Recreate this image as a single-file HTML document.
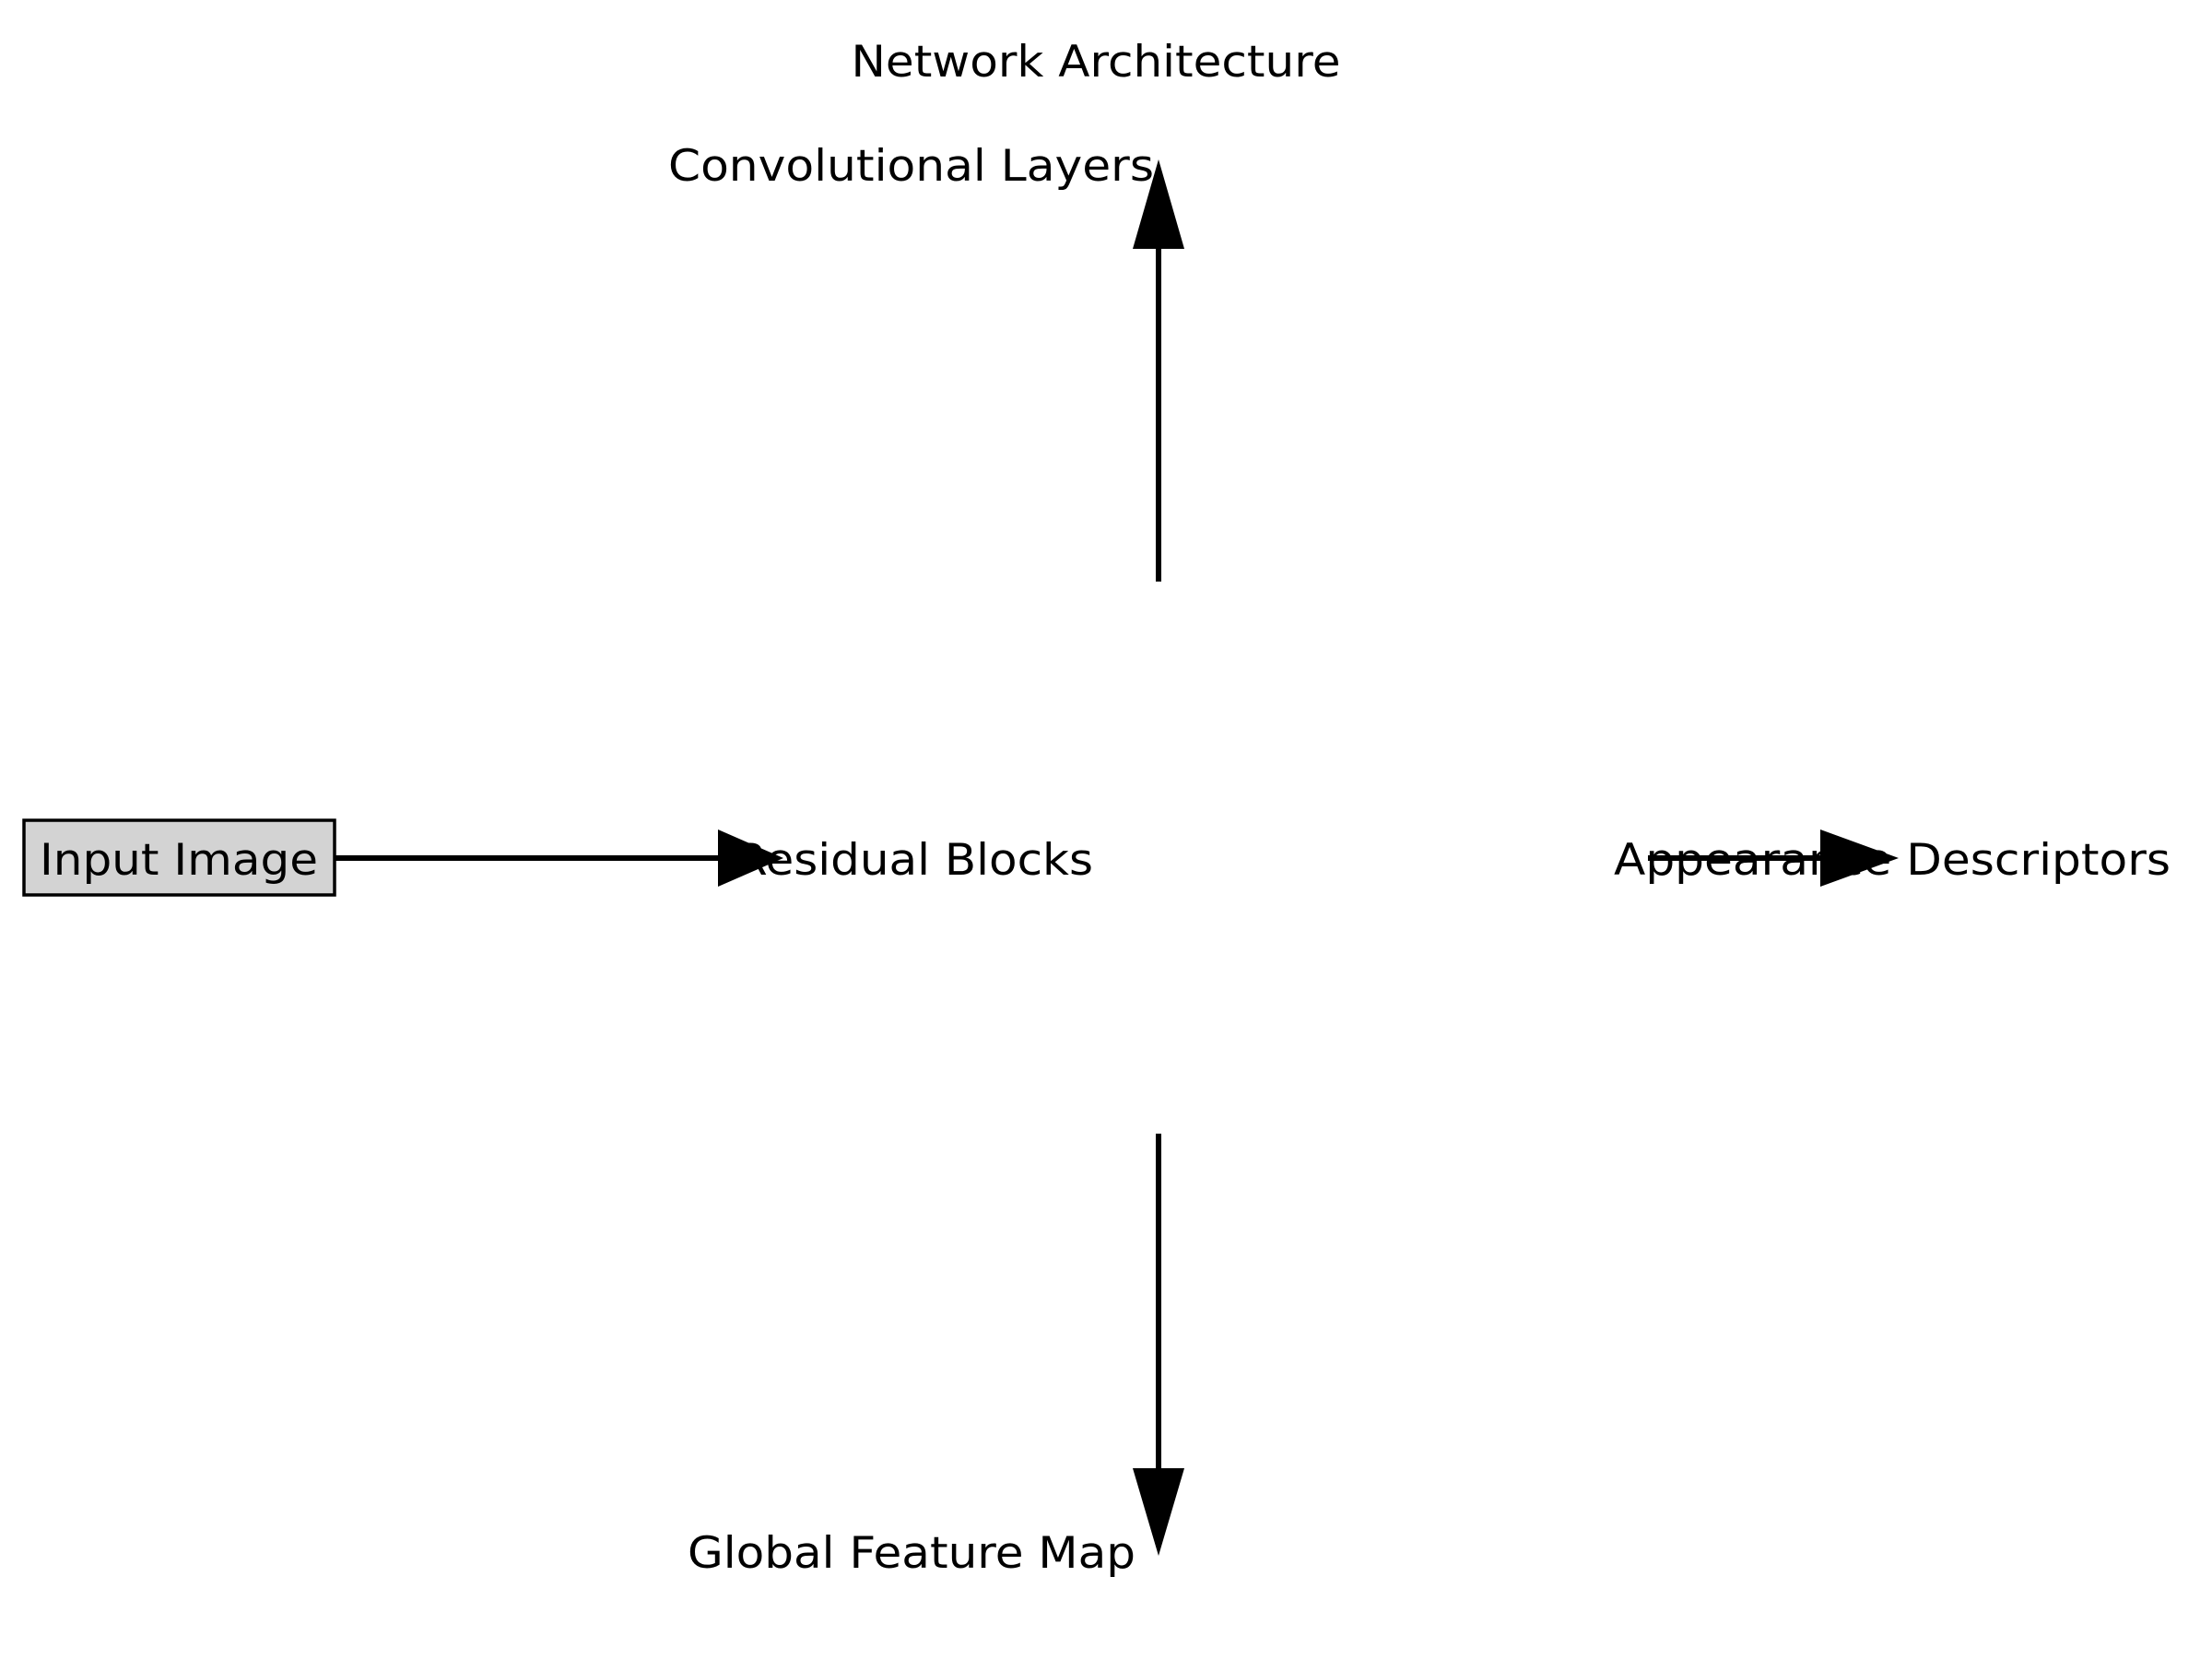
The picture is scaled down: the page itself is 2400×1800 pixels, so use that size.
<!DOCTYPE html>
<html><head><meta charset="utf-8"><style>html,body{margin:0;padding:0;background:#fff}svg{display:block}</style></head>
<body>
<svg width="2400" height="1800" viewBox="0 0 2400 1800" xmlns="http://www.w3.org/2000/svg" font-family="DejaVu Sans, Liberation Sans, sans-serif" font-size="47">
<rect width="2400" height="1800" fill="#fff"/>
<g transform="translate(-4,-4)">
<text x="1193" y="87" text-anchor="middle" textLength="531" lengthAdjust="spacingAndGlyphs">Network Architecture</text>
<text x="1256" y="200" text-anchor="end" textLength="527" lengthAdjust="spacingAndGlyphs">Convolutional Layers</text>
<rect x="30" y="894" width="337" height="81" fill="#d3d3d3" stroke="#000" stroke-width="3.5"/>
<text x="198" y="953" text-anchor="middle" textLength="302" lengthAdjust="spacingAndGlyphs">Input Image</text>
<text x="802" y="953" textLength="388" lengthAdjust="spacingAndGlyphs">Residual Blocks</text>
<text x="1755" y="953" textLength="604" lengthAdjust="spacingAndGlyphs">Appearance Descriptors</text>
<text x="1236" y="1705" text-anchor="end" textLength="486" lengthAdjust="spacingAndGlyphs">Global Feature Map</text>
<g stroke="#000" stroke-width="6">
<line x1="367" y1="935" x2="790" y2="935"/>
<line x1="1261" y1="635" x2="1261" y2="270"/>
<line x1="1261" y1="1234" x2="1261" y2="1600"/>
<line x1="1792" y1="935" x2="1985" y2="935"/>
</g>
<g fill="#000">
<polygon points="783,904 854,935 783,966"/>
<polygon points="1233,274 1261,177 1289,274"/>
<polygon points="1233,1597 1261,1692 1289,1597"/>
<polygon points="1979,904 2064,935 1979,966"/>
</g>
</g>
</svg>
</body></html>
